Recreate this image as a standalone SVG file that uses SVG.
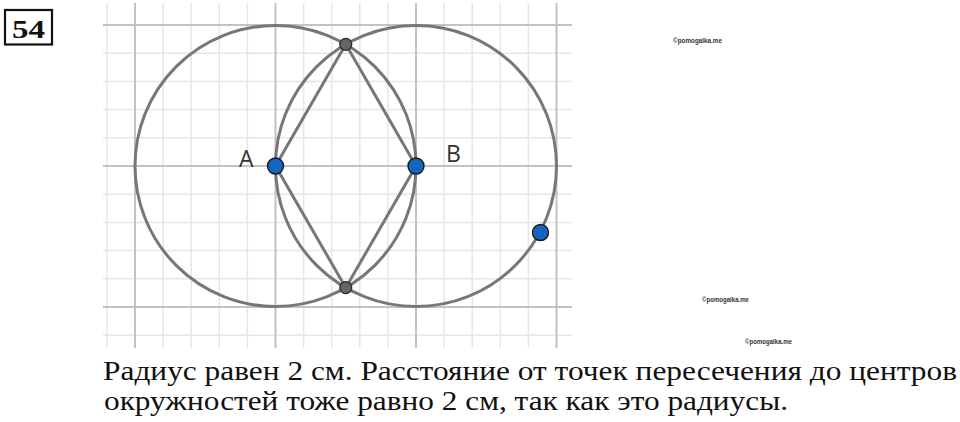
<svg xmlns="http://www.w3.org/2000/svg" width="960" height="422" viewBox="0 0 960 422">
<style>
.minor{stroke:#e6e6e6;stroke-width:1.5;fill:none}
.major{stroke:#c2c2c2;stroke-width:2;fill:none}
.geo{stroke:#777;stroke-width:3;fill:none}
.blue{fill:#1565c0;stroke:#1a1a1a;stroke-width:1.4}
.gray{fill:#666;stroke:#2a2a2a;stroke-width:1.2}
.lbl{font-family:"Open Sans","DejaVu Sans",sans-serif;font-size:23px;fill:#333}
.body{font-family:"Liberation Serif","DejaVu Serif",serif;font-size:27px;fill:#111}
.wm{font-family:"Liberation Sans",Arial,sans-serif;font-size:7px;font-weight:bold;fill:#333}
</style>
<rect width="960" height="422" fill="#fff"/>
<g id="grid">
<path class="minor" d="M106.9 3V348M163.1 3V348M191.2 3V348M219.3 3V348M247.4 3V348M303.6 3V348M331.7 3V348M359.8 3V348M387.9 3V348M444.1 3V348M472.2 3V348M500.3 3V348M528.4 3V348"/>
<path class="minor" d="M103 53.2H572M103 81.4H572M103 109.6H572M103 137.8H572M103 194.2H572M103 222.4H572M103 250.6H572M103 278.8H572M103 335.2H572"/>
<path class="major" d="M135 3V348M275.5 3V348M416 3V348M556.5 3V348M103 25H572M103 166H572M103 307H572"/>
</g>
<g id="connectors">
<circle class="geo" cx="275.5" cy="166" r="140.5"/>
<circle class="geo" cx="416" cy="166" r="140.5"/>
<path class="geo" d="M275.5 166L345.75 44.3L416 166L345.75 287.7Z"/>
</g>
<g id="pointA"><circle class="blue" cx="275.5" cy="166" r="8"/><text class="lbl" x="239" y="166.5">A</text></g>
<g id="pointB"><circle class="blue" cx="416" cy="166" r="8"/><text class="lbl" x="446" y="162">B</text></g>
<g id="pointTop"><circle class="gray" cx="345.75" cy="44.3" r="6"/></g>
<g id="pointBottom"><circle class="gray" cx="345.75" cy="287.7" r="6"/></g>
<g id="pointC"><circle class="blue" cx="540.5" cy="232.5" r="8"/></g>
<g id="number">
<rect x="5" y="10" width="47" height="34.5" fill="#fff" stroke="#111" stroke-width="2.2"/>
<text x="12" y="37.5" font-family="'Liberation Serif','DejaVu Serif',serif" font-weight="bold" font-size="26" fill="#111" textLength="33" lengthAdjust="spacingAndGlyphs">54</text>
</g>
<text class="wm" x="673" y="43" textLength="49" lengthAdjust="spacingAndGlyphs">©pomogalka.me</text>
<text class="wm" x="702" y="302" textLength="47" lengthAdjust="spacingAndGlyphs">©pomogalka.me</text>
<text class="wm" x="745" y="344" textLength="47" lengthAdjust="spacingAndGlyphs">©pomogalka.me</text>
<text class="body" x="103" y="380" textLength="854" lengthAdjust="spacingAndGlyphs">Радиус равен 2 см. Расстояние от точек пересечения до центров</text>
<text class="body" x="104" y="409.5" textLength="684" lengthAdjust="spacingAndGlyphs">окружностей тоже равно 2 см, так как это радиусы.</text>
</svg>
